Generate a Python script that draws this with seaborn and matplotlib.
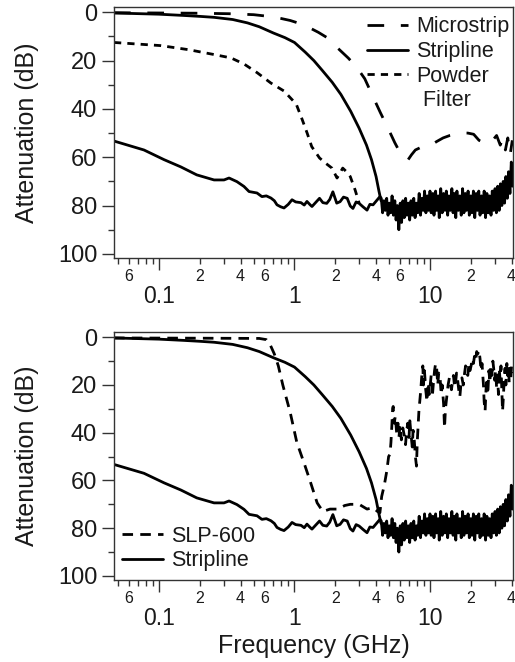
import numpy as np
import pandas as pd
import matplotlib
matplotlib.use("Agg")
import matplotlib.pyplot as plt
import seaborn as sns
from matplotlib.ticker import FixedLocator
from matplotlib.lines import Line2D

# ---------------- data (GHz, dB) ----------------
micro_f = [0.0466, 0.1, 0.2, 0.33, 0.5, 0.6, 0.7, 0.8, 0.93, 1.1,
           1.3, 1.5, 1.8, 2.1, 2.5, 2.9, 3.3, 3.8, 4.3, 4.9,
           5.5, 6.0, 6.5, 6.9, 7.3, 7.8, 8.5, 9.5, 10.2, 11.2,
           12.5, 14.0, 15.5, 17.0, 19.0, 21.0, 23.0, 25.0, 27.0, 29.0,
           31.0, 33.0, 34.5, 36.0, 37.5, 39.0, 40.5]
micro_db = [0.2, 0.3, 0.4, 0.6, 1.0, 1.5, 2.0, 2.6, 3.4, 4.7,
            6.5, 8.3, 11, 15, 19, 23, 27.5, 35, 41.5, 48,
            54, 58, 60.5, 61, 59, 57, 56, 55.5, 55, 53.5,
            52, 51, 50.5, 50, 50, 50.5, 53, 54, 54.5, 53,
            51, 55, 52, 57, 52, 59, 53]

strip_f = [0.0466, 0.1, 0.15, 0.2, 0.255, 0.35, 0.45, 0.55, 0.7, 0.85,
           1.0, 1.2, 1.39, 1.6, 1.9, 2.2, 2.6, 3.0, 3.4, 3.7,
           4.0, 4.2, 4.35]
strip_db = [0.3, 0.8, 1.3, 1.7, 2.1, 3.0, 4.4, 6.0, 8.6, 10.5,
            12.5, 16.5, 20, 24, 29, 34, 41, 48, 55, 61,
            68, 74, 78]

iso_f = [0.0466, 0.0775, 0.109, 0.145, 0.19, 0.255, 0.302, 0.329, 0.376, 0.424,
         0.462, 0.529, 0.575, 0.62, 0.671, 0.71, 0.743, 0.79, 0.837, 0.9,
         0.959, 1.02, 1.117, 1.18, 1.236, 1.3, 1.346, 1.42, 1.53, 1.62,
         1.73, 1.82, 1.92, 2.05, 2.17, 2.3, 2.45, 2.58, 2.7, 2.85,
         3.0, 3.2, 3.43, 3.6, 3.8, 4.0, 4.27,
         4.37, 4.47, 4.57, 4.68, 4.79, 4.90, 5.01, 5.13, 5.25, 5.37,
         5.50, 5.62, 5.75, 5.89, 6.03, 6.17, 6.31, 6.46, 6.61, 6.76,
         6.92, 7.08, 7.24, 7.41, 7.59, 7.76, 7.94, 8.13, 8.32, 8.51,
         8.71, 8.91, 9.12, 9.33, 9.55, 9.77, 10.0, 10.2, 10.5, 10.7,
         11.0, 11.2, 11.5, 11.7, 12.0, 12.3, 12.6, 12.9, 13.2, 13.5,
         13.8, 14.1, 14.5, 14.8, 15.1, 15.5, 15.8, 16.2, 16.6, 17.0,
         17.4, 17.8, 18.2, 18.6, 19.1, 19.5, 20.0, 20.4, 20.9, 21.4,
         21.9, 22.4, 22.9, 23.4, 24.0, 24.5, 25.1, 25.7, 26.3, 26.9,
         27.5, 28.2, 28.8, 29.5, 30.2, 30.9, 31.6, 32.4, 33.1, 33.9,
         34.7, 35.5, 36.3, 37.2, 38.0, 38.9, 39.8, 40.7]
iso_db = [53.3, 57, 61, 64, 67.3, 69.4, 69.4, 68.6, 70.1, 72.1,
          74.2, 74.8, 76.3, 76.0, 76.9, 78.0, 79.7, 80.5, 81, 79.5,
          77.6, 78.5, 78.8, 79.8, 78.3, 79.6, 80.4, 79.0, 77.0, 78.8,
          79.1, 77.5, 74.3, 79, 78.4, 76.5, 77, 80.2, 81.2, 78.5,
          79.1, 80.5, 81.9, 79.5, 79.7, 78.2, 76.3,
          77, 83, 78, 82, 77, 84, 79, 83, 76, 84,
          78, 86, 80, 90, 79, 87, 78, 85, 77, 84,
          79, 86, 78, 84, 77, 85, 79, 83, 75, 84,
          77, 82, 74, 83, 76, 82, 74, 83, 75, 84,
          74, 82, 76, 85, 73, 83, 75, 82, 74, 84,
          76, 82, 73, 83, 75, 85, 74, 82, 76, 84,
          73, 83, 75, 82, 74, 84, 76, 83, 74, 85,
          75, 82, 74, 84, 76, 83, 74, 85, 75, 83,
          76, 84, 74, 82, 73, 83, 72, 82, 71, 80,
          70, 79, 68, 77, 66, 75, 62, 72]

powder_f = [0.0466, 0.103, 0.166, 0.255, 0.34, 0.424, 0.53, 0.67, 0.837, 1.03,
            1.14, 1.24, 1.34, 1.53, 1.7, 1.89, 2.06, 2.17, 2.27, 2.42,
            2.58, 2.8, 3.0]
powder_db = [12.5, 13.8, 15.5, 17.5, 18.9, 21.4, 25, 29.3, 32.6, 38,
             44.4, 50, 55.6, 60.3, 62.5, 64.5, 68.6, 66.5, 64.5, 66,
             68, 73.5, 79]

slp_f = [0.0466, 0.2, 0.4, 0.55, 0.62, 0.66, 0.71, 0.76, 0.82, 0.93,
         1.04, 1.19, 1.3, 1.47, 1.62, 1.83, 2.08, 2.35, 2.58, 3.0,
         3.43, 3.8, 4.1, 4.27, 4.4, 4.6, 4.8, 4.95,
         5.07, 5.15, 5.22, 5.3, 5.35, 5.45, 5.55, 5.67, 5.8, 5.9,
         6.0, 6.15, 6.3, 6.45, 6.6, 6.7, 6.85, 7.0, 7.1, 7.25,
         7.4, 7.5, 7.65, 7.8, 7.95, 8.05, 8.2, 8.3, 8.4, 8.55,
         8.7, 8.85, 8.95, 9.1, 9.3, 9.5, 9.7, 9.85, 10.0, 10.2,
         10.4, 10.6, 10.8, 11.0, 11.2, 11.4, 11.6, 11.9, 12.1, 12.3,
         12.6, 12.8, 13.0, 13.3, 13.6, 13.9, 14.1, 14.4, 14.7, 14.9,
         15.2, 15.5, 15.7, 16.0, 16.3, 16.6, 16.9, 17.2, 17.6, 18.0,
         18.3, 18.7, 19.0, 19.4, 19.7, 20.1, 20.5, 20.9, 21.3, 21.7,
         22.1, 22.5, 23.0, 23.4, 23.8, 24.2, 24.8, 25.1, 25.5, 25.9,
         26.3, 26.7, 27.2, 27.7, 28.1, 28.6, 29.1, 29.5, 30.0, 30.5,
         31.0, 31.5, 32.0, 32.4, 32.9, 33.4, 33.9, 34.3, 34.8, 35.3,
         35.8, 36.3, 36.9, 37.4, 37.9, 38.4, 38.9, 39.5, 40.0, 40.6]
slp_db = [0.3, 0.4, 0.5, 0.5, 1.0, 3.0, 7, 12, 20, 31.5,
          44, 53.5, 60, 69.4, 73, 72, 72, 70.5, 70, 70,
          72, 71.4, 73, 73.5, 66.7, 62, 56, 50,
          49, 44, 38, 30, 29, 36, 33, 40, 36, 42,
          37, 43, 38, 41, 45, 40, 36, 42, 35, 41,
          46, 39, 43, 50, 54, 44, 36, 30, 27, 22,
          16, 12, 20, 14, 22, 27, 19, 24, 21, 16,
          25, 19, 14, 11, 13, 20, 15, 18, 24, 20,
          28, 38, 30, 25, 20, 17, 19, 22, 18, 16,
          21, 18, 15, 18, 22, 25, 20, 17, 20, 15,
          12, 13, 16, 11, 14, 12, 9, 11, 8, 10,
          6, 7, 5.5, 9, 14, 11, 20, 27, 31, 22,
          17, 24, 14, 19, 12, 16, 10, 13, 18, 14,
          21, 16, 24, 13, 18, 12, 22, 31, 25, 17,
          13, 20, 11, 16, 12, 19, 13, 17, 12, 15]

y_major = [0, 20, 40, 60, 80, 100]
y_minor = [10, 30, 50, 70, 90]
x_major = [0.1, 1, 10]
x_major_labels = ["0.1", "1", "10"]
x_minor = [0.05, 0.06, 0.07, 0.08, 0.09, 0.2, 0.3, 0.4, 0.5, 0.6, 0.7, 0.8, 0.9,
           2, 3, 4, 5, 6, 7, 8, 9, 20, 30, 40]
x_minor_labels = ["", "6", "", "", "", "2", "", "4", "", "6", "", "", "",
                  "2", "", "4", "", "6", "", "", "", "2", "", "4"]

# ---------------- style ----------------
sns.set_theme(style="ticks")
plt.rcParams["font.family"] = ["Liberation Sans", "DejaVu Sans"]
plt.rcParams["text.color"] = "#1a1a1a"
plt.rcParams["axes.labelcolor"] = "#1a1a1a"
plt.rcParams["xtick.color"] = "#1a1a1a"
plt.rcParams["ytick.color"] = "#1a1a1a"

fig = plt.figure(figsize=(5.15, 6.62), dpi=100)
ax1 = fig.add_axes([0.2214, 0.6103, 0.7748, 0.3792])
ax2 = fig.add_axes([0.2214, 0.1239, 0.7748, 0.3746])

LW = 2.0


def draw(ax, fx, fy, dashes=None):
    sns.lineplot(x=fx, y=fy, ax=ax, color="black", lw=LW, estimator=None,
                 sort=False, legend=False)
    ln = ax.lines[-1]
    if dashes is not None:
        ln.set_dashes(dashes)
    return ln


def style_axes(ax):
    ax.set_xscale("log")
    ax.set_xlim(0.0466, 41.0)
    ax.set_ylim(101.7, -2.2)
    ax.set_xticks(x_major)
    ax.set_xticklabels(x_major_labels)
    ax.set_xticks(x_minor, minor=True)
    ax.set_xticklabels(x_minor_labels, minor=True)
    ax.set_yticks(y_major)
    ax.set_yticklabels([str(v) for v in y_major])
    ax.yaxis.set_minor_locator(FixedLocator(y_minor))
    for sp in ax.spines.values():
        sp.set_visible(True)
        sp.set_linewidth(1.0)
        sp.set_color("#333333")
    ax.tick_params(axis="both", which="both", direction="out", color="#333333", width=1.0)
    ax.tick_params(axis="y", which="major", length=8.5, labelsize=17, pad=3.6)
    ax.tick_params(axis="y", which="minor", length=4.2)
    ax.tick_params(axis="x", which="major", length=8.5, labelsize=16.5, pad=10.8)
    ax.tick_params(axis="x", which="minor", length=4.2, labelsize=11.5, pad=3.9)
    ax.set_ylabel("Attenuation (dB)", fontsize=18, labelpad=13.5)
    ax.set_xlabel("")
    ax.grid(False)


# ---- top panel ----
l_micro = draw(ax1, micro_f, micro_db, (6, 6))
l_strip = draw(ax1, strip_f, strip_db)
draw(ax1, iso_f, iso_db)
l_powder = draw(ax1, powder_f, powder_db, (2.6, 2.2))
style_axes(ax1)
blank = Line2D([], [], color="none")
ax1.legend(handles=[l_micro, l_strip, l_powder, blank],
           labels=["Microstrip", "Stripline", "Powder", " Filter"],
           loc="upper left", bbox_to_anchor=(0.634, 0.962), frameon=False,
           fontsize=15.5, handlelength=1.9, handletextpad=0.4, borderpad=0,
           borderaxespad=0, labelspacing=0.17)

# ---- bottom panel ----
l_slp = draw(ax2, slp_f, slp_db, (3.8, 2.6))
l_strip2 = draw(ax2, strip_f, strip_db)
draw(ax2, iso_f, iso_db)
style_axes(ax2)
ax2.set_xlabel("Frequency (GHz)", fontsize=18, labelpad=3)
ax2.legend(handles=[l_slp, l_strip2], labels=["SLP-600", "Stripline"],
           loc="lower left", bbox_to_anchor=(0.02, 0.035), frameon=False,
           fontsize=15.5, handlelength=1.9, handletextpad=0.4, borderpad=0,
           borderaxespad=0, labelspacing=0.17)

fig.savefig("out.png", dpi=100)
